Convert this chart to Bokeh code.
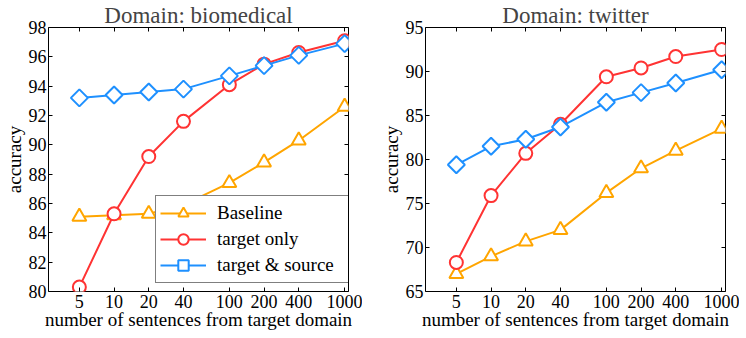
import numpy as np
from bokeh.plotting import figure
from bokeh.layouts import row
from bokeh.models import (FixedTicker, BasicTickFormatter, LinearAxis, LogAxis,
                          Legend, LegendItem, Range1d, CustomLabelingPolicy)
from bokeh.embed import file_html
from bokeh.resources import INLINE

# ---- data ----
sentences = [5, 10, 20, 40, 100, 200, 400, 1000]
series_names = ["Baseline", "target only", "target & source"]

bio_baseline = [85.1, 85.2, 85.3, 85.9, 87.4, 88.8, 90.3, 92.6]
bio_target_only = [80.3, 85.3, 89.2, 91.6, 94.1, 95.5, 96.3, 97.1]
bio_target_source = [93.2, 93.4, 93.6, 93.8, 94.7, 95.4, 96.1, 96.9]

tw_baseline = [67.0, 69.0, 70.7, 72.0, 76.2, 79.0, 81.0, 83.5]
tw_target_only = [68.3, 75.9, 80.7, 84.0, 89.4, 90.4, 91.7, 92.5]
tw_target_source = [79.4, 81.5, 82.3, 83.7, 86.5, 87.6, 88.7, 90.2]

bio_yticks = [80, 82, 84, 86, 88, 90, 92, 94, 96, 98]
tw_yticks = [65, 70, 75, 80, 85, 90, 95]

X_START, X_END = 2.7, 1080
FONT = "Liberation Serif"
COLORS = ["#ffa500", "#ff3333", "#1e90ff"]
MARKERS = [("triangle", 14, 0.0), ("circle", 13, 0.0), ("square", 12, np.pi / 4)]

NO_LABELS = CustomLabelingPolicy(code="""
const out = indices.clone();
for (const i of [...indices.ones()]) {
  if (out.unset) { out.unset(i) } else { out.set(i, false) }
}
return out
""")


def style_axis(ax, labels=True):
    ax.axis_line_color = None
    ax.major_tick_in = 4
    ax.major_tick_out = 0
    ax.minor_tick_in = 0
    ax.minor_tick_out = 0
    ax.major_tick_line_color = "black"
    ax.major_tick_line_width = 1
    if labels:
        ax.major_label_text_font = FONT
        ax.major_label_text_font_size = "18px"
        ax.major_label_text_color = "black"
        ax.major_label_standoff = 2
        ax.axis_label_text_font = FONT
        ax.axis_label_text_font_size = "19px"
        ax.axis_label_text_font_style = "normal"
        ax.axis_label_text_color = "black"
        ax.axis_label_standoff = 1
    else:
        ax.major_label_policy = NO_LABELS
        ax.major_label_text_font_size = "0px"
        ax.major_label_standoff = 0
        ax.axis_label_standoff = 0


def make_fig(title, ys, yticks, right=0, legend=False):
    p = figure(frame_width=300, frame_height=264, x_axis_type="log",
               x_range=Range1d(X_START, X_END),
               y_range=Range1d(yticks[0], yticks[-1]),
               output_backend="svg", toolbar_location=None,
               min_border_left=0, min_border_right=right,
               min_border_top=0, min_border_bottom=0)
    p.title.text = title
    p.title.text_font = FONT
    p.title.text_font_size = "23px"
    p.title.text_font_style = "normal"
    p.title.align = "center"
    p.title.standoff = 0
    p.title.offset = 0
    p.grid.visible = False
    p.outline_line_color = "black"
    p.outline_line_width = 1
    p.background_fill_color = "white"
    p.border_fill_color = "white"

    p.xaxis.ticker = FixedTicker(ticks=sentences)
    p.xaxis.formatter = BasicTickFormatter()
    p.xaxis.axis_label = "number of sentences from target domain"
    p.yaxis.ticker = FixedTicker(ticks=yticks)
    p.yaxis.axis_label = "accuracy"
    style_axis(p.xaxis[0])
    style_axis(p.yaxis[0])
    p.xaxis[0].major_label_standoff = 3
    p.xaxis[0].axis_label_standoff = -2
    top = LogAxis(ticker=FixedTicker(ticks=sentences))
    style_axis(top, labels=False)
    p.add_layout(top, "above")
    rgt = LinearAxis(ticker=FixedTicker(ticks=yticks))
    style_axis(rgt, labels=False)
    p.add_layout(rgt, "right")

    items = []
    for name, y, c, (mk, sz, ang) in zip(series_names, ys, COLORS, MARKERS):
        ln = p.line(sentences, y, line_color=c, line_width=2)
        sc = p.scatter(sentences, y, marker=mk, size=sz, angle=ang,
                       line_color=c, line_width=2, fill_color="white")
        items.append(LegendItem(label=name, renderers=[ln, sc]))

    if legend:
        lg = Legend(items=items, location=(107, 8))
        lg.label_text_font = FONT
        lg.label_text_font_size = "19px"
        lg.label_text_color = "black"
        lg.glyph_width = 46
        lg.glyph_height = 26
        lg.label_height = 26
        lg.spacing = 0
        lg.padding = 4
        lg.margin = 0
        lg.label_standoff = 11
        lg.label_width = 129
        lg.border_line_color = "black"
        lg.border_line_width = 1.5
        lg.background_fill_color = "white"
        lg.background_fill_alpha = 1.0
        p.add_layout(lg, "center")
    return p


p1 = make_fig("Domain: biomedical",
              [bio_baseline, bio_target_only, bio_target_source],
              bio_yticks, right=14, legend=True)
p2 = make_fig("Domain: twitter",
              [tw_baseline, tw_target_only, tw_target_source],
              tw_yticks, right=14)

layout = row(p1, p2, spacing=15)
open("out.html", "w").write(file_html(layout, INLINE))
